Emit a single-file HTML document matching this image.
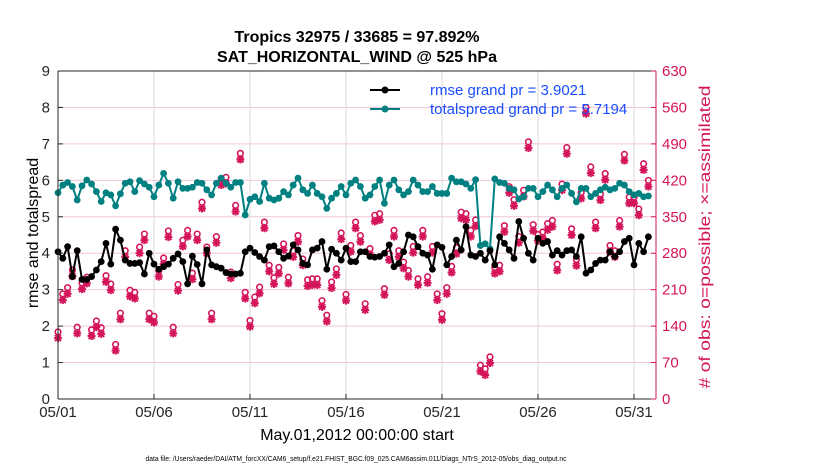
<!DOCTYPE html>
<html><head><meta charset="utf-8"><style>
body{margin:0;background:#fff;width:830px;height:470px;overflow:hidden}
svg{display:block;font-family:"Liberation Sans",sans-serif}
</style></head><body>
<svg id="chart" width="830" height="470" viewBox="0 0 830 470" xmlns="http://www.w3.org/2000/svg">
<text x="357" y="42" text-anchor="middle" font-size="16" font-weight="bold">Tropics 32975 / 33685 = 97.892%</text>
<text x="357" y="62" text-anchor="middle" font-size="16" font-weight="bold">SAT_HORIZONTAL_WIND @ 525 hPa</text>
<g id="grid"></g>
<g id="obs"></g>
<g id="lines"></g>
<g id="axes"></g>
<text transform="translate(38,233) rotate(-90)" text-anchor="middle" font-size="16">rmse and totalspread</text>
<text transform="translate(710,237) rotate(-90)" text-anchor="middle" font-size="16" fill="#d4145a" textLength="303" lengthAdjust="spacingAndGlyphs"># of obs: o=possible; ×=assimilated</text>
<text x="357" y="440" text-anchor="middle" font-size="16">May.01,2012 00:00:00 start</text>
<text x="356" y="461" text-anchor="middle" font-size="7" textLength="421" lengthAdjust="spacingAndGlyphs">data file: /Users/raeder/DAI/ATM_forcXX/CAM6_setup/f.e21.FHIST_BGC.f09_025.CAM6assim.011/Diags_NTrS_2012-05/obs_diag_output.nc</text>
<g>
<line x1="370" y1="90" x2="400" y2="90" stroke="#000" stroke-width="2"/><circle cx="385" cy="90" r="3.5" fill="#000"/>
<text x="430" y="95" font-size="15" fill="#1a4dff">rmse grand pr = 3.9021</text>
<line x1="370" y1="109" x2="400" y2="109" stroke="#008080" stroke-width="2"/><circle cx="385" cy="109" r="3.5" fill="#008080"/>
<text x="430" y="114" font-size="15" fill="#1a4dff">totalspread grand pr = 5.7194</text>
</g>
</svg>
<script>
const rmse=[4.04,3.86,4.18,3.36,4.07,3.28,3.28,3.36,3.54,3.77,4.27,3.70,4.66,4.36,3.81,3.72,3.72,3.74,3.43,4.0,3.70,3.56,3.63,3.70,3.86,3.98,3.77,3.16,3.92,3.69,3.16,4.09,3.68,3.63,3.59,3.47,3.43,3.43,3.45,4.04,4.14,4.02,3.91,3.81,
4.18,4.20,4.04,3.86,3.92,4.23,4.09,3.72,3.68,4.09,4.14,4.32,3.56,4.11,4.0,3.81,4.14,3.77,3.77,4.04,4.04,3.91,3.89,3.91,4.0,4.23,3.63,3.72,4.04,4.50,4.45,4.18,4.0,3.95,3.56,4.23,4.16,3.68,3.91,4.36,4.09,
4.73,3.95,3.91,4.0,3.81,4.07,3.68,4.45,4.27,4.09,3.86,4.87,4.41,4.0,3.81,4.41,4.27,4.32,3.95,4.07,3.95,4.07,4.09,3.91,4.45,3.45,3.54,3.72,3.81,3.81,4.04,3.91,4.04,4.32,4.41,3.68,4.27,4.04,4.45];
const spread=[5.66,5.87,5.94,5.83,5.46,5.85,6.01,5.90,5.69,5.42,5.66,5.60,5.30,5.63,5.92,5.96,5.69,5.99,5.90,5.81,5.55,5.87,6.19,5.92,5.51,5.96,5.78,5.78,5.81,5.94,5.92,5.74,5.60,5.92,6.06,5.92,5.81,5.94,5.94,5.05,5.48,5.55,5.42,5.92,
5.51,5.46,5.51,5.69,5.60,5.87,6.06,5.74,5.64,5.87,5.64,5.55,5.23,5.51,5.64,5.83,5.60,5.92,6.01,5.83,5.51,5.60,5.83,6.01,5.37,5.87,6.01,5.74,5.60,5.69,6.01,5.87,5.69,5.69,5.83,5.64,5.64,5.64,6.06,5.96,5.96,
5.90,5.78,6.02,4.21,4.26,4.12,6.04,5.94,5.92,5.78,5.74,5.49,5.55,5.78,5.78,5.55,5.69,5.87,5.74,5.55,5.78,5.87,5.64,5.41,5.78,5.78,5.55,5.64,5.74,5.81,5.74,5.78,5.92,5.87,5.69,5.60,5.64,5.55,5.57];
const assimilated=[117,190,202,236,126,211,222,121,138,125,225,209,93,153,273,197,193,280,305,153,147,235,259,311,126,208,293,312,230,305,366,280,153,300,411,414,232,360,460,193,139,184,203,328,
245,221,241,286,222,273,302,257,217,219,219,177,149,213,238,307,189,283,328,302,171,277,341,344,200,267,312,273,251,235,281,219,312,223,281,190,152,202,243,279,347,
344,312,332,53,46,69,241,245,321,396,371,300,389,482,323,304,309,325,331,247,401,471,315,256,385,548,434,328,382,421,283,273,331,458,376,376,353,440,408];
const possibleOffset=[8];
const xTickDays=[0,5,10,15,20,25,30];
const xTickLabels=["05/01","05/06","05/11","05/16","05/21","05/26","05/31"];
const yTicks=[0,1,2,3,4,5,6,7,8,9];
const y2Ticks=[0,70,140,210,280,350,420,490,560,630];

const NS="http://www.w3.org/2000/svg";
const L=58,R=656,T=71,B=399,XMAX=(R-L)/19.2;
const sx=d=>L+d/XMAX*(R-L);
const sy=v=>B-v/9*(B-T);
const sy2=v=>B-v/630*(B-T);
function mk(tag,attrs,parent){const e=document.createElementNS(NS,tag);for(const k in attrs)e.setAttribute(k,attrs[k]);parent.appendChild(e);return e;}
const grid=document.getElementById('grid'),axes=document.getElementById('axes'),obs=document.getElementById('obs'),lines=document.getElementById('lines');
mk('rect',{x:L,y:T,width:R-L,height:B-T,fill:'#fff'},grid);
yTicks.forEach(v=>{if(v>0&&v<9){const g=mk('line',{x1:L,x2:R,y1:sy(v),y2:sy(v),stroke:'#f2c6d8','stroke-width':1},grid);

}});
xTickDays.forEach(d=>{if(d>0){const g=mk('line',{x1:sx(d),x2:sx(d),y1:T,y2:B,stroke:'#d8d8d8','stroke-width':1},grid);

}});
assimilated.forEach((c,i)=>{const x=sx(i/4),y=sy2(c),yo=sy2(c+possibleOffset[0]);
const g=mk('g',{stroke:'#d4145a','stroke-width':2,fill:'none'},obs);


mk('circle',{cx:x,cy:yo-2,r:2.8,'stroke-width':1.6},g);
mk('line',{x1:x-4,x2:x+4,y1:y,y2:y},g);
mk('line',{x1:x,x2:x,y1:y-4,y2:y+4},g);
mk('line',{x1:x-3,x2:x+3,y1:y-3,y2:y+3},g);
mk('line',{x1:x-3,x2:x+3,y1:y+3,y2:y-3},g);});
function series(arr,color,name){const pts=arr.map((v,i)=>sx(i/4)+','+sy(v)).join(' ');
const pl=mk('polyline',{points:pts,fill:'none',stroke:color,'stroke-width':2},lines);


arr.forEach((v,i)=>{const c=mk('circle',{cx:sx(i/4),cy:sy(v),r:3.4,fill:color},lines);

});}
series(spread,'#008080','totalspread');
series(rmse,'#000','rmse');
mk('line',{x1:L,x2:R,y1:B,y2:B,stroke:'#262626'},axes);
mk('line',{x1:L,x2:R,y1:T,y2:T,stroke:'#262626'},axes);
mk('line',{x1:L,x2:L,y1:T,y2:B,stroke:'#262626'},axes);
mk('line',{x1:R,x2:R,y1:T,y2:B,stroke:'#d4145a'},axes);
yTicks.forEach(v=>{mk('line',{x1:L,x2:L+5,y1:sy(v),y2:sy(v),stroke:'#262626'},axes);
const t=mk('text',{x:L-8,y:sy(v)+5,'text-anchor':'end','font-size':15,fill:'#262626'},axes);t.textContent=v;

});
y2Ticks.forEach(v=>{mk('line',{x1:R-5,x2:R,y1:sy2(v),y2:sy2(v),stroke:'#d4145a'},axes);
const t=mk('text',{x:R+6,y:sy2(v)+5,'font-size':15,fill:'#d4145a'},axes);t.textContent=v;

});
xTickDays.forEach((d,i)=>{mk('line',{x1:sx(d),x2:sx(d),y1:B,y2:B-5,stroke:'#262626'},axes);
const t=mk('text',{x:sx(d),y:B+18,'text-anchor':'middle','font-size':15,fill:'#262626'},axes);t.textContent=xTickLabels[i];

});
</script>
</body></html>
